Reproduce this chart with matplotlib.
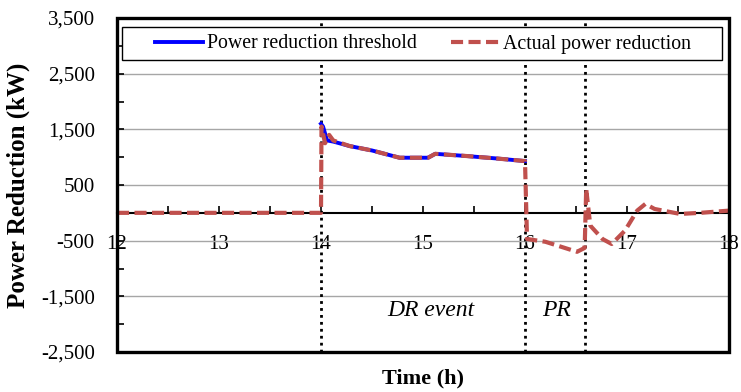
import matplotlib
matplotlib.use("Agg")
import matplotlib.pyplot as plt
from matplotlib.patches import Rectangle
from matplotlib.ticker import FuncFormatter

plt.rcParams['font.family'] = ['Liberation Serif', 'DejaVu Serif']

# Data
threshold_t = [14.0, 14.02, 14.06, 14.12, 14.28, 14.5, 14.77, 15.05, 15.12, 15.43, 15.7, 16.0]
threshold_v = [1600, 1550, 1300, 1280, 1200, 1120, 990, 990, 1060, 1020, 980, 930]

actual_t = [12.0, 14.0, 14.005, 14.04, 14.08, 14.12, 14.28, 14.5, 14.77, 15.05, 15.12, 15.43, 15.7,
            16.0, 16.02, 16.2, 16.51, 16.585, 16.6, 16.64, 16.76, 16.85, 16.98, 17.1, 17.18,
            17.27, 17.52, 17.72, 18.0]
actual_v = [0, 0, 1550, 1250, 1400, 1300, 1200, 1120, 990, 990, 1060, 1020, 980,
            930, -470, -520, -700, -630, 430, -230, -470, -560, -320, 40, 160,
            70, -20, 0, 40]

event_lines = [14.0, 16.0, 16.59]
event_labels = ["DR event", "PR"]
event_label_x = [15.08, 16.31]
event_label_pad = [14, 9]

fig = plt.figure(figsize=(7.41, 3.92), dpi=100)
ax = fig.add_axes([117/741, 1-352/392, (729-117)/741, (352-18)/392])

ax.set_xlim(12, 18)
ax.set_ylim(-2500, 3500)

ax.set_yticks(range(-2500, 3501, 1000))
ax.set_yticks(range(-2000, 3001, 1000), minor=True)
ax.yaxis.set_major_formatter(FuncFormatter(lambda v, p: f"{int(v):,}"))
ax.set_xticks(range(12, 19))
ax.set_xticks([12.5 + i for i in range(6)], minor=True)

ax.grid(axis='y', which='major', color='#a6a6a6', lw=1.0, zorder=0)

for s in ['top', 'right', 'left']:
    ax.spines[s].set_visible(False)
ax.spines['bottom'].set_position(('data', 0))
ax.spines['bottom'].set_linewidth(1.5)
ax.add_patch(Rectangle((0, 0), 1, 1, transform=ax.transAxes, fill=False,
                       lw=2.4, ec='black', clip_on=False, zorder=7))

ax.tick_params(axis='x', which='both', direction='in', length=5, width=1.2, pad=16, labelsize=15)
ax.tick_params(axis='y', which='both', direction='in', length=5, width=1.2, pad=16, labelsize=15)

for lx, lab, pd in zip(event_label_x, event_labels, event_label_pad):
    ax.text(lx, -1760, lab, style='italic', fontsize=17, ha='center', va='center', zorder=2,
            bbox=dict(boxstyle='square,pad=0', fc='white', ec='none', pad=pd))
    
for x in event_lines:
    ax.axvline(x, color='black', lw=2, ls=(0, (1, 1.5)), zorder=3)

ax.plot(threshold_t, threshold_v, color='#0000ff', lw=2.8, zorder=4, label='Power reduction threshold')
ax.plot(actual_t, actual_v, color='#c0504d', lw=3, ls=(0, (2.9, 1.3)), zorder=5, label='Actual power reduction')

ax.set_ylabel('Power Reduction (kW)', fontsize=18, fontweight='bold', labelpad=8)
ax.set_xlabel('Time (h)', fontsize=16, fontweight='bold')
ax.xaxis.set_label_coords(0.5, -0.05)

leg = ax.legend(loc='center', bbox_to_anchor=(0.5, (352-44)/334), ncol=2, frameon=False,
                fontsize=14.3, handlelength=2.45, handletextpad=0.2, columnspacing=1.7,
                borderaxespad=0, borderpad=0)
leg.set_zorder(6)
ax.add_patch(Rectangle(((122-117)/612, (352-60)/334), 600/612, 33/334, transform=ax.transAxes,
                       fill=True, fc='white', lw=1.0, ec='black', zorder=5.5))

fig.savefig('out.png', dpi=100)
